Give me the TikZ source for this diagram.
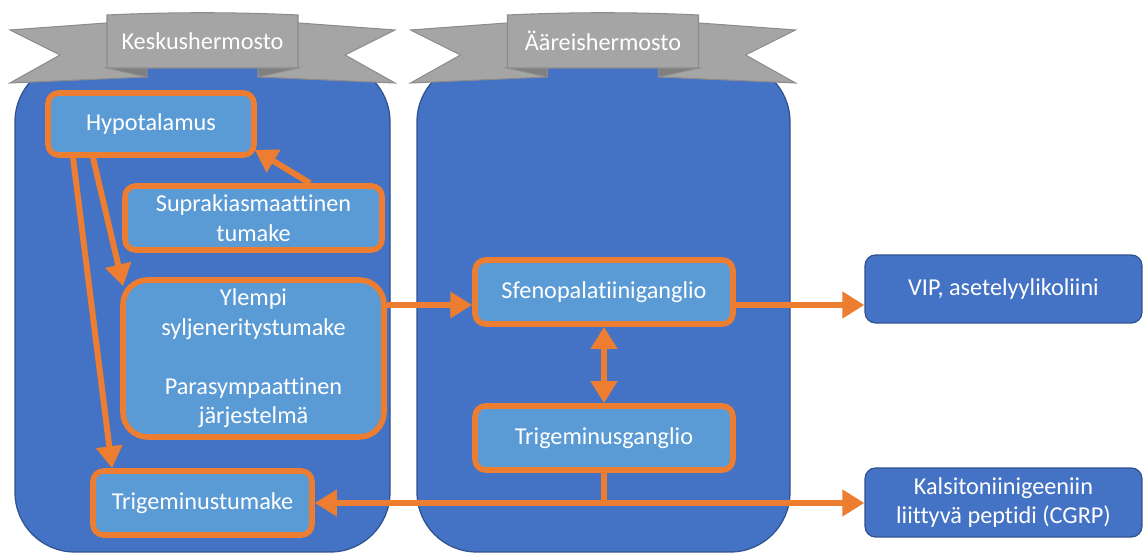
\documentclass[tikz,border=0pt]{standalone}
\usepackage{fontspec}
\setmainfont{Carlito}[Ligatures={NoCommon}]
\usetikzlibrary{arrows.meta}
\definecolor{cblue}{HTML}{4472C4}
\definecolor{cborder}{HTML}{2F528F}
\definecolor{clight}{HTML}{5B9BD5}
\definecolor{corange}{HTML}{ED7D31}
\definecolor{cgray}{HTML}{A5A5A5}
\definecolor{cgrayd}{HTML}{7F7F7F}
\definecolor{cgrayb}{HTML}{8C8C8C}
\begin{document}
\begin{tikzpicture}[x=0.02cm,y=-0.02cm,
  txt/.style={text=white,font=\fontsize{13.8}{16.8}\selectfont,align=center},
  obox/.style={txt,draw=corange,line width=3.2pt,fill=clight,rounded corners=6pt,inner sep=0pt},
  dbox/.style={txt,draw=cborder,line width=0.7pt,fill=cblue,rounded corners=6pt,inner sep=0pt},
  container/.style={draw=cborder,line width=0.7pt,fill=cblue,rounded corners=34pt},
  ribbon/.style={draw=cgrayb,line width=0.6pt,fill=cgray},
  fold/.style={draw=cgrayb,line width=0.6pt,fill=cgrayd},
  arr/.style={draw=corange,line width=3.4pt,-{Triangle[width=14.5pt,length=12.5pt]}},
  darr/.style={draw=corange,line width=3.4pt,{Triangle[width=14.5pt,length=12.5pt]}-{Triangle[width=14.5pt,length=12.5pt]}},
  oline/.style={draw=corange,line width=3.4pt}]
\useasboundingbox (0,0) rectangle (1144,553);
% containers
\draw[container] (15,62) rectangle (390,552);
\draw[container] (417,62) rectangle (790,552);
% banners
\foreach \dx/\lab/\nm in {0/Keskushermosto/b1, 400.5/Ääreishermosto/b2}{
  \begin{scope}[xshift=\dx*0.02cm]
    \draw[ribbon] (10,30) -- (120,22) -- (147,77) -- (10,83) -- (60,55) -- cycle;
    \draw[ribbon] (395,30) -- (285,22) -- (258,77) -- (395,83) -- (345,55) -- cycle;
    \draw[fold] (107,68) -- (147,68) -- (147,77) -- cycle;
    \draw[fold] (298,68) -- (258,68) -- (258,77) -- cycle;
    \draw[ribbon] (107,15) .. controls (170,12) and (235,12) .. (298,15) -- (298,68) -- (107,68) -- cycle;
    \node[txt] (\nm) at (202.5,41) {\lab};
  \end{scope}
}
% nodes
\node[obox,minimum width=4.12cm,minimum height=1.24cm] (hy) at (151,124) {Hypotalamus};
\node[obox,minimum width=5.14cm,minimum height=1.28cm] (su) at (253.5,218) {Suprakiasmaattinen\\tumake};
\node[obox,rounded corners=14pt,minimum width=5.22cm,minimum height=3.14cm] (yl) at (253.5,358.5) {Ylempi\\syljeneritystumake\\[16.8pt]Parasympaattinen\\järjestelmä};
\node[obox,minimum width=4.38cm,minimum height=1.28cm] (tt) at (202.5,503) {Trigeminustumake};
\node[obox,minimum width=5.16cm,minimum height=1.28cm] (sf) at (604,292) {Sfenopalatiiniganglio};
\node[obox,minimum width=5.16cm,minimum height=1.28cm] (tg) at (604,438) {Trigeminusganglio};
\node[dbox,minimum width=5.54cm,minimum height=1.36cm] (vip) at (1003.5,289) {VIP, asetelyylikoliini};
\node[dbox,minimum width=5.54cm,minimum height=1.38cm] (ka) at (1003.5,502.5) {Kalsitoniinigeeniin\\liittyvä peptidi (CGRP)};
% connectors
\coordinate (h1) at (0,305);
\coordinate (h2) at (0,503);
\draw[arr] ([xshift=1.13cm]su.north) -- ([xshift=-0.04cm,yshift=0.16cm]hy.south east);
\draw[arr] ([xshift=-1.16cm]hy.south) -- ([xshift=0.06cm,yshift=-0.18cm]yl.north west);
\draw[arr] ([xshift=-1.56cm]hy.south) -- ([xshift=-1.81cm]tt.north);
\draw[arr] (yl.east |- h1) -- (sf.west |- h1);
\draw[arr] (sf.east |- h1) -- (vip.west |- h1);
\draw[darr] (sf.south) -- (tg.north);
\coordinate (j) at (tg.south |- h2);
\draw[oline] (tg.south) -- ([yshift=-1.7pt]j);
\draw[arr] (j) -- (tt.east |- h2);
\draw[arr] (j) -- (ka.west |- h2);
\end{tikzpicture}
\end{document}
